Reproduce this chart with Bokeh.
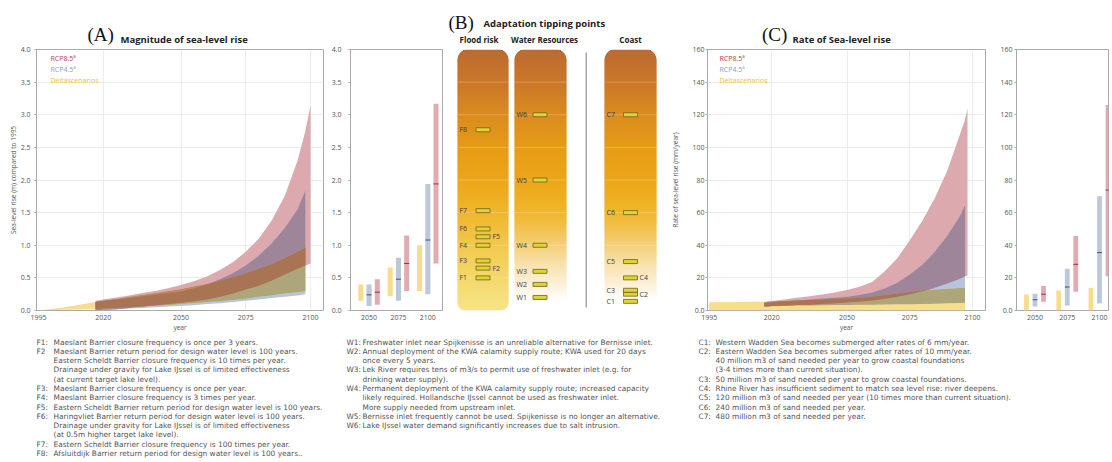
import numpy as np
from bokeh.plotting import figure
from bokeh.layouts import row, column
from bokeh.models import Range1d, FixedTicker, Label, PrintfTickFormatter
from bokeh.core.properties import value
from bokeh.embed import file_html
from bokeh.resources import INLINE

FONT = "Open Sans"
NOTE_FONT = "DejaVu Sans"
SERIF = "Liberation Serif"
TXT = "#555555"

# ---------------- (A) magnitude of sea-level rise (m, relative to 1995) ----------------
A_YEARS = [2017, 2020, 2025, 2030, 2035, 2040, 2045, 2050, 2055, 2060, 2065, 2070, 2075, 2080, 2085, 2090, 2095, 2098]
A_RCP85_YEARS = A_YEARS + [2100]
A_RCP85_LOW = [0.00, 0.01, 0.02, 0.04, 0.06, 0.08, 0.10, 0.12, 0.14, 0.17, 0.21, 0.26, 0.32, 0.38, 0.46, 0.55, 0.64, 0.69, 0.72]
A_RCP85_HIGH = [0.15, 0.17, 0.20, 0.23, 0.27, 0.30, 0.34, 0.39, 0.45, 0.52, 0.62, 0.74, 0.90, 1.10, 1.38, 1.75, 2.30, 2.75, 3.14]
A_RCP45_YEARS = A_YEARS
A_RCP45_LOW = [0.00, 0.01, 0.02, 0.03, 0.04, 0.05, 0.06, 0.07, 0.08, 0.10, 0.11, 0.13, 0.15, 0.17, 0.19, 0.21, 0.23, 0.25]
A_RCP45_HIGH = [0.13, 0.15, 0.17, 0.19, 0.22, 0.24, 0.27, 0.29, 0.34, 0.40, 0.48, 0.57, 0.69, 0.84, 1.03, 1.26, 1.55, 1.84]
A_DELTA_YEARS = [1995, 2005] + A_YEARS
A_DELTA_LOW = [0.00, 0.01, 0.02, 0.03, 0.04, 0.05, 0.06, 0.07, 0.08, 0.10, 0.11, 0.13, 0.14, 0.16, 0.18, 0.21, 0.23, 0.26, 0.28, 0.30]
A_DELTA_HIGH = [0.00, 0.05, 0.13, 0.15, 0.18, 0.21, 0.24, 0.27, 0.30, 0.33, 0.37, 0.41, 0.46, 0.51, 0.57, 0.64, 0.71, 0.80, 0.90, 0.96]

SIDE_YEARS = [2050, 2075, 2100]
A_SIDE_DELTA_LOW = [0.15, 0.22, 0.30]
A_SIDE_DELTA_HIGH = [0.40, 0.66, 1.00]
A_SIDE_RCP45_LOW = [0.07, 0.15, 0.25]
A_SIDE_RCP45_HIGH = [0.40, 0.81, 1.94]
A_SIDE_RCP45_MED = [0.24, 0.48, 1.08]
A_SIDE_RCP85_LOW = [0.09, 0.30, 0.72]
A_SIDE_RCP85_HIGH = [0.48, 1.15, 3.17]
A_SIDE_RCP85_MED = [0.28, 0.72, 1.94]

# ---------------- (C) rate of sea-level rise (mm/year) ----------------
C_YEARS = [2017, 2020, 2025, 2030, 2035, 2040, 2045, 2050, 2055, 2060, 2065, 2070, 2075, 2080, 2085, 2090, 2095, 2097]
C_RCP85_YEARS = C_YEARS + [2098]
C_RCP85_LOW = [2.5, 2.7, 3.0, 3.3, 3.6, 4.0, 4.4, 4.9, 5.5, 6.2, 7.2, 8.5, 10.0, 11.8, 14.0, 16.5, 19.5, 20.8, 21.5]
C_RCP85_HIGH = [5.0, 5.8, 6.8, 7.8, 8.8, 9.8, 11.0, 12.5, 14.5, 17.5, 24.0, 32.0, 43.0, 55.0, 69.0, 86.0, 108.0, 117.0, 124.0]
C_RCP45_YEARS = C_YEARS
C_RCP45_LOW = [2.5, 2.6, 2.8, 3.0, 3.1, 3.2, 3.3, 3.4, 3.5, 3.6, 3.7, 3.8, 3.9, 4.0, 4.2, 4.4, 4.6, 4.7]
C_RCP45_HIGH = [4.5, 5.0, 5.6, 6.2, 6.8, 7.3, 7.8, 8.4, 9.5, 11.0, 13.5, 17.0, 22.0, 28.0, 36.0, 46.0, 58.0, 64.5]
C_DELTA_YEARS = [1995, 2005] + C_YEARS
C_DELTA_LOW = [0.0, 0.0, 0.0, 0.0, 0.0, 0.0, 0.0, 0.0, 0.0, 0.0, 0.0, 0.0, 0.0, 0.0, 0.0, 0.0, 0.0, 0.0, 0.0, 0.0]
C_DELTA_HIGH = [5.0, 5.2, 5.5, 5.7, 6.0, 6.2, 6.5, 6.8, 7.0, 7.3, 7.8, 8.5, 9.3, 10.3, 11.3, 12.2, 12.9, 13.4, 13.8, 14.0]

C_SIDE_DELTA_LOW = [0.0, 0.0, 0.0]
C_SIDE_DELTA_HIGH = [9.8, 12.3, 14.0]
C_SIDE_RCP45_LOW = [2.5, 3.1, 4.3]
C_SIDE_RCP45_HIGH = [10.3, 25.6, 70.0]
C_SIDE_RCP45_MED = [6.6, 14.4, 35.5]
C_SIDE_RCP85_LOW = [5.3, 11.5, 21.0]
C_SIDE_RCP85_HIGH = [15.0, 45.7, 126.0]
C_SIDE_RCP85_MED = [10.0, 28.3, 73.8]

# ---------------- (B) adaptation tipping points (m sea-level rise) ----------------
FLOOD_LABELS = ["F1", "F2", "F3", "F4", "F5", "F6", "F7", "F8"]
FLOOD_LEVELS = [0.50, 0.65, 0.76, 1.00, 1.13, 1.25, 1.53, 2.77]
WATER_LABELS = ["W1", "W2", "W3", "W4", "W5", "W6"]
WATER_LEVELS = [0.20, 0.40, 0.60, 1.00, 2.00, 3.00]
COAST_LABELS = ["C1", "C2", "C3", "C4", "C5", "C6", "C7"]
COAST_LEVELS = [0.14, 0.25, 0.31, 0.50, 0.75, 1.50, 3.00]
RIGHT_SIDE = {"F2", "F5", "C2", "C4"}

F_NOTES = [
    ("F1:", ["Maeslant Barrier closure frequency is once per 3 years."]),
    ("F2", ["Maeslant Barrier return period for design water level is 100 years.",
            "Eastern Scheldt Barrier closure frequency is 10 times per year.",
            "Drainage under gravity for Lake IJssel is of limited effectiveness",
            "(at current target lake level)."]),
    ("F3:", ["Maeslant Barrier closure frequency is once per year."]),
    ("F4:", ["Maeslant Barrier closure frequency is 3 times per year."]),
    ("F5:", ["Eastern Scheldt Barrier return period for design water level is 100 years."]),
    ("F6:", ["Haringvliet Barrier return period for design water level is 100 years.",
             "Drainage under gravity for Lake IJssel is of limited effectiveness",
             "(at 0.5m higher target lake level)."]),
    ("F7:", ["Eastern Scheldt Barrier closure frequency is 100 times per year."]),
    ("F8:", ["Afsluitdijk Barrier return period for design water level is 100 years.."]),
]
W_NOTES = [
    ("W1:", ["Freshwater inlet near Spijkenisse is an unreliable alternative for Bernisse inlet."]),
    ("W2:", ["Annual deployment of the KWA calamity supply route; KWA used for 20 days",
             "once every 5 years."]),
    ("W3:", ["Lek River requires tens of m3/s to permit use of freshwater inlet (e.g. for",
             "drinking water supply)."]),
    ("W4:", ["Permanent deployment of the KWA calamity supply route; increased capacity",
             "likely required. Hollandsche IJssel cannot be used as freshwater inlet.",
             "More supply needed from upstream inlet."]),
    ("W5:", ["Bernisse inlet frequently cannot be used. Spijkenisse is no longer an alternative."]),
    ("W6:", ["Lake IJssel water demand significantly increases due to salt intrusion."]),
]
C_NOTES = [
    ("C1:", ["Western Wadden Sea becomes submerged after rates of 6 mm/year."]),
    ("C2:", ["Eastern Wadden Sea becomes submerged after rates of 10 mm/year.",
             "40 million m3 of sand needed per year to grow coastal foundations",
             "(3-4 times more than current situation)."]),
    ("C3:", ["50 million m3 of sand needed per year to grow coastal foundations."]),
    ("C4:", ["Rhine River has insufficient sediment to match sea level rise: river deepens."]),
    ("C5:", ["120 million m3 of sand needed per year (10 times more than current situation)."]),
    ("C6:", ["240 million m3 of sand needed per year."]),
    ("C7:", ["480 million m3 of sand needed per year."]),
]

# ---------------- styles ----------------
COL_R = "#dba9ae"     # RCP8.5 only
COL_B = "#b6c5dc"     # RCP4.5 only
COL_Y = "#f7dd8f"     # Deltascenarios only
COL_RB = "#9e8599"
COL_BY = "#aca67a"
COL_RY = "#c08862"
COL_RBY = "#a87454"
BAR_Y = "#f6dd8c"
BAR_B = "#bcc7d9"
BAR_R = "#e2abb2"
MED_B = "#3e5080"
MED_R = "#a8293b"
OUTLINE = "#a9a9a9"
TITLE_H = 45
TOP_B = 4
BOT_B = 24
ROW_H = TOP_B + 261 + BOT_B


def base_fig(width, xr, yr, bl, br, label_standoff, axis_label_standoff):
    p = figure(width=width, height=ROW_H, x_range=Range1d(*xr), y_range=Range1d(*yr),
               output_backend="svg", toolbar_location=None, title=None,
               min_border_left=bl, min_border_right=br, min_border_top=TOP_B, min_border_bottom=BOT_B)
    p.background_fill_color = "white"
    p.border_fill_color = "white"
    p.outline_line_color = OUTLINE
    for ax in list(p.xaxis) + list(p.yaxis):
        ax.axis_line_color = None
        ax.major_tick_line_color = OUTLINE
        ax.minor_tick_line_color = None
        ax.major_tick_out = 2
        ax.major_tick_in = 0
        ax.major_label_text_font = FONT
        ax.major_label_text_font_size = "7px"
        ax.major_label_text_color = TXT
        ax.major_label_standoff = 2
        ax.axis_label_text_font = FONT
        ax.axis_label_text_font_size = "6.5px"
        ax.axis_label_text_font_style = "normal"
        ax.axis_label_text_color = TXT
        ax.axis_label_standoff = 0
    p.xaxis.major_tick_line_color = None
    p.yaxis.major_label_standoff = label_standoff
    p.yaxis.axis_label_standoff = axis_label_standoff
    return p


def overlap(*bands):
    common = sorted(set.intersection(*[set(b.keys()) for b in bands]))
    lo = [max(b[y][0] for b in bands) for y in common]
    hi = [min(b[y][1] for b in bands) for y in common]
    hi = [max(h, l) for h, l in zip(hi, lo)]
    return common, lo, hi


def draw_bands(p, red, blue, yel):
    dicts = []
    for (yrs, lo, hi), col in [(red, COL_R), (blue, COL_B), (yel, COL_Y)]:
        p.varea(x=yrs, y1=lo, y2=hi, fill_color=col)
        dicts.append({y: (l, h) for y, l, h in zip(yrs, lo, hi)})
    R, B, Y = dicts
    for combo, col in [((R, B), COL_RB), ((B, Y), COL_BY), ((R, Y), COL_RY), ((R, B, Y), COL_RBY)]:
        yrs, lo, hi = overlap(*combo)
        p.varea(x=yrs, y1=lo, y2=hi, fill_color=col)


def legend_labels(p, x):
    for txt, col, y in [("RCP8.5\u00aa", "#b8404c", 252), ("RCP4.5\u00aa", "#8d9dc6", 241), ("Deltascenarios", "#f0c02a", 230)]:
        p.add_layout(Label(x=x, y=y, x_units="screen", y_units="screen", text=txt, text_color=col,
                           text_font=FONT, text_font_size="7px", text_baseline="middle"))


def side_bars(p, dl, dh, bl, bh, bm, rl, rh, rm, off, w):
    xd = [y - off for y in SIDE_YEARS]
    xb = list(SIDE_YEARS)
    xr = [y + off for y in SIDE_YEARS]
    p.vbar(x=xd, width=w, bottom=dl, top=dh, fill_color=BAR_Y, line_color=None)
    p.vbar(x=xb, width=w, bottom=bl, top=bh, fill_color=BAR_B, line_color=None)
    p.vbar(x=xr, width=w, bottom=rl, top=rh, fill_color=BAR_R, line_color=None)
    p.segment(x0=[x - w / 2 for x in xb], x1=[x + w / 2 for x in xb], y0=bm, y1=bm, line_color=MED_B, line_width=1)
    p.segment(x0=[x - w / 2 for x in xr], x1=[x + w / 2 for x in xr], y0=rm, y1=rm, line_color=MED_R, line_width=1)
    p.xgrid.visible = False
    p.ygrid.visible = False
    p.xaxis.ticker = FixedTicker(ticks=SIDE_YEARS)


# ---------------- title strip ----------------
ptitle = figure(width=1112, height=TITLE_H, x_range=Range1d(0, 1112), y_range=Range1d(TITLE_H, 0),
                output_backend="svg", toolbar_location=None, title=None, min_border=0,
                x_axis_location=None, y_axis_location=None)
ptitle.outline_line_color = None
ptitle.grid.visible = False
ptitle.text(x=[87, 448, 761.5], y=[34.2, 21.5, 34.2], text=["(A)", "(B)", "(C)"], text_font=value(SERIF),
            text_font_size="19px", text_color="#111111", text_align="left", text_baseline="middle")
ptitle.text(x=[120, 483, 792], y=[38.8, 23.3, 38.8],
            text=["Magnitude of sea-level rise", "Adaptation tipping points", "Rate of Sea-level rise"],
            text_font=value(FONT), text_font_size="9.5px", text_font_style="bold", text_color="#222222",
            text_align="left", text_baseline="middle")
ptitle.text(x=[478.5, 544, 630], y=[39.0, 39.0, 39.0], text=["Flood risk", "Water Resources", "Coast"],
            text_font=value(FONT), text_font_size="8px", text_font_style="bold", text_color="#222222",
            text_align="center", text_baseline="middle")

# ---------------- panel A main ----------------
pa = base_fig(328, (1994.2, 2105.0), (0, 4), 36, 5, 4, 0)
pa.xaxis.ticker = FixedTicker(ticks=[1995, 2020, 2050, 2075, 2100])
pa.yaxis.ticker = FixedTicker(ticks=[0, 0.5, 1, 1.5, 2, 2.5, 3, 3.5, 4])
pa.yaxis.formatter = PrintfTickFormatter(format="%.1f")
pa.xaxis.axis_label = "year"
pa.yaxis.axis_label = "Sea-level rise (m) compared to 1995"
pa.xgrid.ticker = FixedTicker(ticks=[2020, 2050, 2075, 2100])
pa.grid.grid_line_color = "#ececec"
draw_bands(pa, (A_RCP85_YEARS, A_RCP85_LOW, A_RCP85_HIGH),
           (A_RCP45_YEARS, A_RCP45_LOW, A_RCP45_HIGH),
           (A_DELTA_YEARS, A_DELTA_LOW, A_DELTA_HIGH))
legend_labels(pa, 14)

# ---------------- panel A side ----------------
pas = base_fig(120, (2034.2, 2112.5), (0, 4), 20, 6, 7, 0)
pas.yaxis.ticker = FixedTicker(ticks=[0, 0.5, 1, 1.5, 2, 2.5, 3, 3.5, 4])
pas.yaxis.formatter = PrintfTickFormatter(format="%.1f")
side_bars(pas, A_SIDE_DELTA_LOW, A_SIDE_DELTA_HIGH, A_SIDE_RCP45_LOW, A_SIDE_RCP45_HIGH, A_SIDE_RCP45_MED,
          A_SIDE_RCP85_LOW, A_SIDE_RCP85_HIGH, A_SIDE_RCP85_MED, 7, 4.3)

# ---------------- panel B ----------------
PXM = 261 / 4.0
pb = figure(width=220, height=ROW_H, x_range=Range1d(448, 668), y_range=Range1d(0, 4),
            output_backend="svg", toolbar_location=None, title=None,
            min_border_left=0, min_border_right=0, min_border_top=TOP_B, min_border_bottom=BOT_B,
            x_axis_location=None, y_axis_location=None)
pb.outline_line_color = None
pb.grid.visible = False
pb.background_fill_color = "white"
pb.border_fill_color = "white"

FLOOD_STOPS_V = [0, 0.5, 1.0, 1.5, 2.0, 2.5, 3.0, 3.5, 4.0]
FLOOD_STOPS_C = ["#f6e38a", "#f4d86a", "#f2c84c", "#f0b62c", "#eca619", "#e69b16", "#da8b1f", "#ca782a", "#bc6a32"]
FADE_STOPS_V = [0, 0.15, 0.4, 0.7, 1.0, 1.25, 1.5, 2.0, 2.5, 3.0, 3.5, 4.0]
FADE_STOPS_C = ["#ffffff", "#ffffff", "#fcf0d8", "#f8e2ae", "#f4cf7a", "#f2c250", "#f0b62c", "#eca619",
                "#e69b16", "#da8b1f", "#ca782a", "#bc6a32"]


def column_strips(left, right, sv, sc, r_top, r_bot):
    n = 261
    k = np.arange(n)
    y0 = k / PXM
    y1 = np.minimum((k + 1.4) / PXM, 4.0)
    ym = (k + 0.5) / PXM
    dt = n - k - 0.5
    db = k + 0.5
    inset = np.zeros(n)
    mt = dt < r_top
    inset[mt] = r_top - np.sqrt(np.maximum(r_top ** 2 - (r_top - dt[mt]) ** 2, 0))
    if r_bot > 0:
        mb = db < r_bot
        inset[mb] = r_bot - np.sqrt(np.maximum(r_bot ** 2 - (r_bot - db[mb]) ** 2, 0))
    chans = [np.interp(ym, sv, [int(h[1 + 2 * i:3 + 2 * i], 16) for h in sc]) for i in range(3)]
    cols = ["#%02x%02x%02x" % (int(round(chans[0][j])), int(round(chans[1][j])), int(round(chans[2][j])))
            for j in range(n)]
    return dict(left=left + inset, right=right - inset, bottom=y0, top=y1, fill_color=cols)


for (l, r, sv, sc, rb) in [(457, 508, FLOOD_STOPS_V, FLOOD_STOPS_C, 8),
                           (514, 566, FADE_STOPS_V, FADE_STOPS_C, 0),
                           (604, 656, FADE_STOPS_V, FADE_STOPS_C, 0)]:
    d = column_strips(l, r, sv, sc, 11, rb)
    pb.quad(left=d["left"], right=d["right"], bottom=d["bottom"], top=d["top"],
            fill_color=d["fill_color"], line_color=None)
    gl = [0.5, 1.0, 1.5, 2.0, 2.5, 3.0, 3.5]
    pb.segment(x0=[l] * len(gl), x1=[r] * len(gl), y0=gl, y1=gl, line_color="white", line_alpha=0.3, line_width=0.8)

pb.segment(x0=[585.7], x1=[585.7], y0=[3 / PXM], y1=[258 / PXM], line_color="#7a7a7a", line_width=1)

MH = 2.0 / PXM
for labels, levels, xc, xl_left, xl_right in [(FLOOD_LABELS, FLOOD_LEVELS, 482.5, 459, 492),
                                               (WATER_LABELS, WATER_LEVELS, 539.5, 516, 549),
                                               (COAST_LABELS, COAST_LEVELS, 630, 606, 639)]:
    pb.quad(left=[xc - 7] * len(levels), right=[xc + 7] * len(levels),
            bottom=[v - MH for v in levels], top=[v + MH for v in levels],
            fill_color="#e2d236", line_color="#6a6220", line_width=0.8)
    lx = [xl_right if lab in RIGHT_SIDE else xl_left for lab in labels]
    pb.text(x=lx, y=levels, text=labels, text_font=value(FONT), text_font_size="7px",
            text_color="#3c3c3c", text_baseline="middle", text_align="left")

# ---------------- panel C main ----------------
pc = base_fig(324, (1994.34, 2105.17), (0, 160), 32, 7, 1, 9)
pc.xaxis.ticker = FixedTicker(ticks=[1995, 2020, 2050, 2075, 2100])
pc.yaxis.ticker = FixedTicker(ticks=[0, 20, 40, 60, 80, 100, 120, 140, 160])
pc.yaxis.major_label_overrides = {0: "0.0"}
pc.xaxis.axis_label = "year"
pc.yaxis.axis_label = "Rate of sea-level rise (mm/year)"
pc.xgrid.ticker = FixedTicker(ticks=[2020, 2050, 2075, 2100])
pc.grid.grid_line_color = "#ececec"
draw_bands(pc, (C_RCP85_YEARS, C_RCP85_LOW, C_RCP85_HIGH),
           (C_RCP45_YEARS, C_RCP45_LOW, C_RCP45_HIGH),
           (C_DELTA_YEARS, C_DELTA_LOW, C_DELTA_HIGH))
legend_labels(pc, 12)

# ---------------- panel C side ----------------
pcs = base_fig(120, (2035.66, 2106.98), (0, 160), 24, 4, 2, 0)
pcs.yaxis.ticker = FixedTicker(ticks=[0, 20, 40, 60, 80, 100, 120, 140, 160])
pcs.yaxis.major_label_overrides = {0: "0.0"}
side_bars(pcs, C_SIDE_DELTA_LOW, C_SIDE_DELTA_HIGH, C_SIDE_RCP45_LOW, C_SIDE_RCP45_HIGH, C_SIDE_RCP45_MED,
          C_SIDE_RCP85_LOW, C_SIDE_RCP85_HIGH, C_SIDE_RCP85_MED, 6.6, 3.7)

# ---------------- notes ----------------
NOTES_TOP = TITLE_H + ROW_H
pt = figure(width=1112, height=126, x_range=Range1d(0, 1112), y_range=Range1d(NOTES_TOP + 126, NOTES_TOP),
            output_backend="svg", toolbar_location=None, title=None, min_border=0,
            x_axis_location=None, y_axis_location=None)
pt.outline_line_color = None
pt.grid.visible = False
LINE_H = 9.26
for notes, xl, xt in [(F_NOTES, 36, 53), (W_NOTES, 346, 362), (C_NOTES, 698, 715)]:
    labs, lx, ly, txts, tx, ty = [], [], [], [], [], []
    i = 0
    for lab, lines in notes:
        labs.append(lab)
        lx.append(xl)
        ly.append(341.7 + i * LINE_H)
        for ln in lines:
            txts.append(ln)
            tx.append(xt)
            ty.append(341.7 + i * LINE_H)
            i += 1
    pt.text(x=lx, y=ly, text=labs, text_font=value(NOTE_FONT), text_font_size="7.4px", text_color=TXT,
            text_baseline="middle", text_align="left")
    pt.text(x=tx, y=ty, text=txts, text_font=value(NOTE_FONT), text_font_size="7.4px", text_color=TXT,
            text_baseline="middle", text_align="left")

layout = column(ptitle, row(pa, pas, pb, pc, pcs), pt)
open("out.html", "w").write(file_html(layout, INLINE))
